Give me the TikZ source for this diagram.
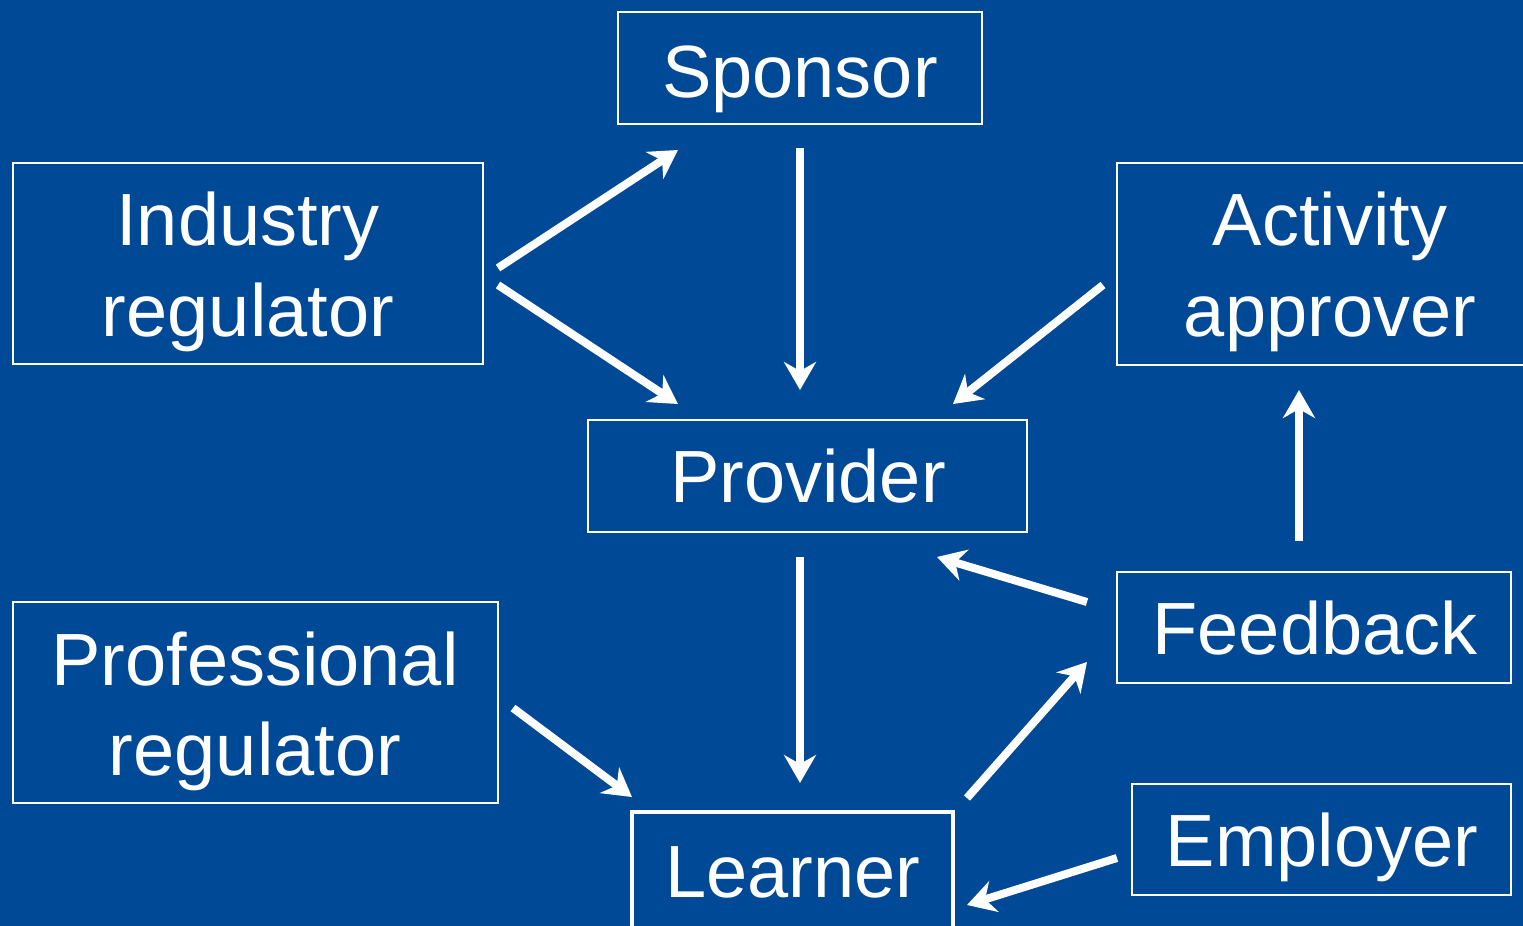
\documentclass[tikz,border=0pt]{standalone}
\usepackage{fontspec}
\setmainfont{Liberation Sans}
\usetikzlibrary{arrows.meta}
\definecolor{bg}{RGB}{0,73,150}
\tikzset{
  box/.style={draw=white, line width=2pt, rectangle, inner sep=0pt},
  thickbox/.style={draw=white, line width=4.5pt, rectangle, inner sep=0pt},
  lbl/.style={text=white, inner sep=0pt, anchor=base, font=\fontsize{74}{90}\selectfont},
  arr/.style={draw=white, line width=8pt, -{Stealth[length=28pt,width=32pt,inset=9pt]}},
}
\begin{document}
\begin{tikzpicture}[x=1pt,y=-1pt]
\fill[bg] (0,0) rectangle (1523,926);
\useasboundingbox (0,0) rectangle (1523,926);
% boxes
\node[box, minimum width=364pt, minimum height=112pt] (sponsor) at (800,68) {};
\node[box, minimum width=470pt, minimum height=201pt] (industry) at (248,263.5) {};
\node[box, minimum width=420pt, minimum height=202pt] (activity) at (1327,264) {};
\node[box, minimum width=439pt, minimum height=112pt] (provider) at (807.5,476) {};
\node[box, minimum width=394pt, minimum height=111pt] (feedback) at (1314,627.5) {};
\node[box, minimum width=485pt, minimum height=201pt] (prof) at (255.5,702.5) {};
\node[box, minimum width=379pt, minimum height=111pt] (employer) at (1321.5,839.5) {};
\node[thickbox, minimum width=321pt, minimum height=124pt] (learner) at (792.5,874) {};
% labels
\node[lbl] (tsponsor) at (800,97) {Sponsor};
\node[lbl] (tind1) at (248,245) {Industry};
\node[lbl] (tind2) at (248,336) {regulator};
\node[lbl] (tact1) at (1330,245) {Activity};
\node[lbl] (tact2) at (1330,336) {approver};
\node[lbl] (tprov) at (808,502.5) {Provider};
\node[lbl] (tfeed) at (1315,654) {Feedback};
\node[lbl] (tprof1) at (255,685) {Professional};
\node[lbl] (tprof2) at (255,775) {regulator};
\node[lbl] (temp) at (1322,866) {Employer};
\node[lbl] (tlearn) at (793,897) {Learner};
% arrow end points
\coordinate (a1s) at (498,268); \coordinate (a1e) at (678,150);
\coordinate (a2s) at (498,285); \coordinate (a2e) at (678,404);
\coordinate (a3s) at (800,148); \coordinate (a3e) at (800,390);
\coordinate (a4s) at (1103,285); \coordinate (a4e) at (953,404);
\coordinate (a5s) at (800,557); \coordinate (a5e) at (800,783);
\coordinate (a6s) at (1087,602); \coordinate (a6e) at (937,557);
\coordinate (a7s) at (1299,541); \coordinate (a7e) at (1299,390);
\coordinate (a8s) at (513,708); \coordinate (a8e) at (632,797);
\coordinate (a9s) at (967,798); \coordinate (a9e) at (1087,662);
\coordinate (a10s) at (1117,858); \coordinate (a10e) at (967,905);
\draw[arr] (a1s) -- (a1e);
\draw[arr] (a2s) -- (a2e);
\draw[arr] (a3s) -- (a3e);
\draw[arr] (a4s) -- (a4e);
\draw[arr] (a5s) -- (a5e);
\draw[arr] (a6s) -- (a6e);
\draw[arr] (a7s) -- (a7e);
\draw[arr] (a8s) -- (a8e);
\draw[arr] (a9s) -- (a9e);
\draw[arr] (a10s) -- (a10e);
\end{tikzpicture}
\end{document}
